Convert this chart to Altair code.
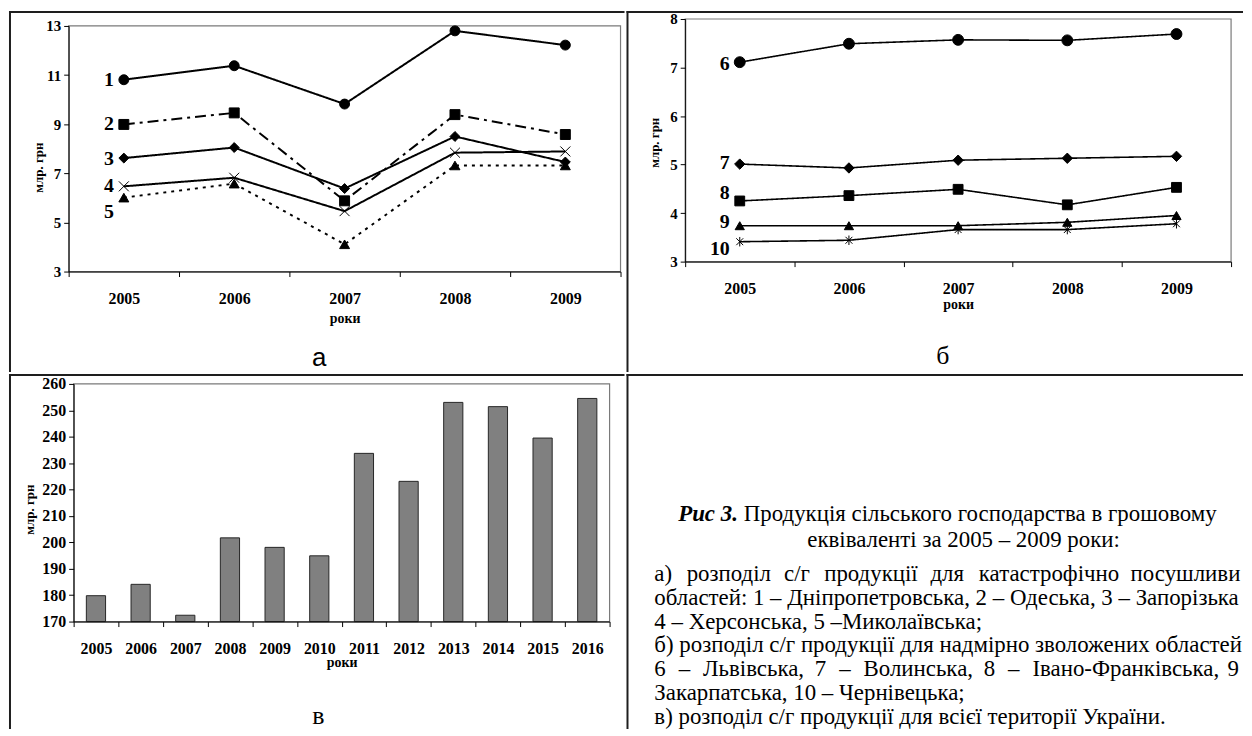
import altair as alt
import pandas as pd

# ---------------- data ----------------
years_ab = ["2005", "2006", "2007", "2008", "2009"]

names_a = ["1", "2", "3", "4", "5"]
a1 = [10.81, 11.38, 9.82, 12.80, 12.22]
a2 = [8.99, 9.46, 5.88, 9.39, 8.58]
a3 = [7.62, 8.05, 6.38, 8.50, 7.46]
a4 = [6.47, 6.82, 5.46, 7.84, 7.89]
a5 = [6.01, 6.58, 4.11, 7.32, 7.32]
label_y_a = [10.81, 8.99, 7.57, 6.47, 5.41]
y_ticks_a = [3, 5, 7, 9, 11, 13]

names_b = ["6", "7", "8", "9", "10"]
b6 = [7.11, 7.49, 7.57, 7.56, 7.69]
b7 = [5.01, 4.93, 5.09, 5.13, 5.17]
b8 = [4.25, 4.36, 4.49, 4.17, 4.53]
b9 = [3.74, 3.74, 3.74, 3.81, 3.95]
b10 = [3.41, 3.44, 3.66, 3.66, 3.78]
label_y_b = [7.07, 5.03, 4.41, 3.82, 3.26]
y_ticks_b = [3, 4, 5, 6, 7, 8]

years_v = ["2005", "2006", "2007", "2008", "2009", "2010",
           "2011", "2012", "2013", "2014", "2015", "2016"]
values_v = [179.8, 184.1, 172.4, 201.7, 198.1, 194.9,
            233.7, 223.1, 253.0, 251.4, 239.5, 254.5]
y_ticks_v = [170, 180, 190, 200, 210, 220, 230, 240, 250, 260]

axis_title_y = "млр. грн"
axis_title_x = "роки"
panel_letters = ["а", "б", "в"]

caption_lead = "Рис 3."
caption_title = ["Продукція сільського господарства в грошовому",
                 "еквіваленті за 2005 – 2009 роки:"]
caption_body = [
    "а) розподіл с/г продукції для катастрофічно посушливих",
    "областей: 1 – Дніпропетровська, 2 – Одеська, 3 – Запорізька,",
    "4 – Херсонська, 5 –Миколаївська;",
    "б) розподіл с/г продукції для надмірно зволожених областей:",
    "6 – Львівська, 7 – Волинська, 8 – Івано-Франківська, 9 –",
    "Закарпатська, 10 – Чернівецька;",
    "в) розподіл с/г продукції для всієї території України.",
]
justified_lines = {0: 625, 4: 640}   # line index -> justification right edge

# ---------------- style ----------------
SERIF = "Liberation Serif"
SANS = "Liberation Sans"
BORDER = "#1e1e1e"
ONE = pd.DataFrame({"k": [0]})
X_PATH = "M-1,-1L1,1M-1,1L1,-1"
AST_PATH = "M-0.8,-0.8L0.8,0.8M-0.8,0.8L0.8,-0.8M0,-1.1L0,1.1"
ZW = "\u200b"

# approximate Times metrics (1/1000 em) used only for justifying caption lines
CW = {"а": 444, "б": 500, "в": 472, "г": 410, "д": 500, "е": 444, "є": 444, "ж": 690,
      "з": 395, "и": 535, "і": 278, "ї": 278, "й": 535, "к": 486, "л": 500, "м": 630,
      "н": 535, "о": 500, "п": 535, "р": 500, "с": 444, "т": 440, "у": 500, "ф": 650,
      "х": 500, "ц": 535, "ч": 500, "ш": 770, "щ": 770, "ь": 456, "ю": 720, "я": 500,
      " ": 250, ",": 250, ".": 250, ":": 278, ";": 278, "/": 278, ")": 333, "(": 333,
      "–": 500, "-": 333, "І": 333, "Ф": 780, "Л": 680, "В": 667}


def est_width(s, size):
    return sum(CW.get(ch, 500) for ch in s) / 1000.0 * size * 0.97


def long_table(years, names, rows):
    recs = []
    for name, vals in zip(names, rows):
        for yr, v in zip(years, vals):
            recs.append({"year": yr, "series": name, "value": v})
    return pd.DataFrame(recs)


def borders(w, h):
    v = alt.Chart(ONE).mark_rule(color=BORDER, strokeWidth=2).encode(
        x=alt.value(1), y=alt.value(0), y2=alt.value(h))
    hz = alt.Chart(ONE).mark_rule(color=BORDER, strokeWidth=2).encode(
        y=alt.value(1), x=alt.value(0), x2=alt.value(w))
    return [v, hz]


def frame(left, right, top, bottom):
    return alt.Chart(ONE).mark_rect(fillOpacity=0, stroke="#7a7a7a", strokeWidth=1.2).encode(
        x=alt.value(left), x2=alt.value(right), y=alt.value(top), y2=alt.value(bottom))


def text_item(txt, x, y, align="left", size=23, weight="normal", style="normal",
              font=SERIF, limit=None):
    props = dict(text=txt, align=align, baseline="middle", font=font, fontSize=size,
                 fontWeight=weight, fontStyle=style, color="black", clip=True)
    if limit is not None:
        props.update(limit=max(limit, 1), ellipsis=ZW)
    return alt.Chart(ONE).mark_text(**props).encode(x=alt.value(x), y=alt.value(y))


def x_axis(h, left, right, bottom, title_dy):
    return alt.Axis(title=axis_title_x, orient="bottom", offset=bottom - h, tickBand="extent",
                    labelAngle=0, labelFont=SERIF, labelFontWeight="bold", labelFontSize=16,
                    labelColor="black", labelBaseline="middle", labelPadding=22,
                    tickSize=5, tickColor="black", domainColor="black", grid=False, zindex=2,
                    titleFont=SERIF, titleFontWeight="bold", titleFontSize=14, titleColor="black",
                    titleX=(left + right) / 2, titleY=title_dy, titleBaseline="middle",
                    titleAlign="center")


def y_axis(left, ticks, tx, ty, size=15):
    return alt.Axis(title=axis_title_y, orient="left", offset=-left, values=ticks, format="d",
                    labelFont=SERIF, labelFontWeight="bold", labelFontSize=size,
                    labelColor="black", labelPadding=3, tickSize=5, tickColor="black",
                    domainColor="black", grid=False, zindex=2,
                    titleFont=SERIF, titleFontWeight="bold", titleFontSize=13,
                    titleColor="black", titleAngle=270, titleX=tx, titleY=ty,
                    titleBaseline="middle", titleAlign="center")


def line_panel(years, names, rows, label_vals, y_dom, y_ticks, w, h, box,
               dashes, widths, shapes, sizes, ytx, yty, xty, letter, lxy, lfont):
    left, right, top, bottom = box
    df = long_table(years, names, rows)
    lab = pd.DataFrame({"year": [years[0]] * len(names), "value": label_vals, "label": names})
    x_enc = alt.X("year:O", bandPosition=0.5,
                  scale=alt.Scale(type="band", domain=years, range=[left, right],
                                  paddingInner=0, paddingOuter=0),
                  axis=x_axis(h, left, right, bottom, xty))
    y_enc = alt.Y("value:Q",
                  scale=alt.Scale(domain=y_dom, range=[bottom, top], nice=False, zero=False),
                  axis=y_axis(left, y_ticks, ytx, yty))
    lines = alt.Chart(df).mark_line(color="black").encode(
        x=x_enc, y=y_enc,
        strokeDash=alt.StrokeDash("series:N", scale=alt.Scale(domain=names, range=dashes), legend=None),
        strokeWidth=alt.StrokeWidth("series:O", scale=alt.Scale(domain=names, range=widths), legend=None),
    )
    pts = alt.Chart(df).mark_point(filled=True, fill="black", stroke="black", strokeWidth=1,
                                   opacity=1).encode(
        x=x_enc, y=y_enc,
        shape=alt.Shape("series:N", scale=alt.Scale(domain=names, range=shapes), legend=None),
        size=alt.Size("series:O", scale=alt.Scale(domain=names, range=sizes), legend=None),
    )
    labels = alt.Chart(lab).mark_text(align="right", baseline="middle", dx=-10, font=SERIF,
                                      fontWeight="bold", fontSize=20, color="black").encode(
        x=x_enc, y=y_enc, text="label:N")
    let = text_item(letter, lxy[0], lxy[1], align="center", size=26, font=lfont)
    layers = [frame(left, right, top, bottom), lines, pts, labels, let] + borders(w, h)
    return alt.layer(*layers).properties(width=w, height=h)


W_L, W_R = 619, 620
H_T, H_B = 363, 357

panel_a = line_panel(
    years_ab, names_a, [a1, a2, a3, a4, a5], label_y_a, [3, 13], y_ticks_a, W_L, H_T,
    (60, 615, 15, 262),
    [[1, 0], [11, 5, 3, 5], [1, 0], [1, 0], [3, 5]],
    [2.0, 2.0, 2.0, 1.4, 2.2],
    ["circle", "square", "diamond", X_PATH, "triangle-up"],
    [100, 100, 100, 120, 100],
    -30, 157, 47, panel_letters[0], (312, 349), SANS)

panel_b = line_panel(
    years_ab, names_b, [b6, b7, b8, b9, b10], label_y_b, [3, 8], y_ticks_b, W_R, H_T,
    (59, 608, 8, 252),
    [[1, 0], [1, 0], [1, 0], [1, 0], [1, 0]],
    [1.6, 1.6, 1.6, 1.6, 1.6],
    ["circle", "diamond", "square", "triangle-up", AST_PATH],
    [120, 75, 125, 95, 110],
    -31, 132, 43, panel_letters[1], (318, 347), SERIF)

# ---------------- bar panel ----------------
vl, vr, vt, vb = 65, 604, 10, 249
df_v = pd.DataFrame({"year": years_v, "value": values_v})
bars = alt.Chart(df_v).mark_bar(color="#808080", stroke="#262626", strokeWidth=1,
                                width=alt.RelativeBandSize(0.43)).encode(
    x=alt.X("year:O", scale=alt.Scale(type="band", domain=years_v, range=[vl, vr],
                                      paddingInner=0, paddingOuter=0),
            axis=x_axis(H_B, vl, vr, vb, 41)),
    y=alt.Y("value:Q", scale=alt.Scale(domain=[170, 260], range=[vb, vt], nice=False, zero=False),
            axis=y_axis(vl, y_ticks_v, -44, 136, size=16)),
    y2=alt.datum(170),
)
panel_v = alt.layer(frame(vl, vr, vt, vb), bars,
                    text_item(panel_letters[2], 311, 344, align="center", size=26),
                    *borders(W_L, H_B)).properties(width=W_L, height=H_B)

# ---------------- caption panel ----------------
FS = 23
cap_layers = []
cap_layers.append(text_item(caption_lead, 112, 141, align="right", size=FS,
                            weight="bold", style="italic"))
cap_layers.append(text_item(caption_title[0], 118, 141, size=FS, limit=W_R - 118))
cap_layers.append(text_item(caption_title[1], 339, 167, align="center", size=FS))
x0 = 28
for i, line in enumerate(caption_body):
    yy = 201 + 24.0 * i
    if i in justified_lines:
        x_right = justified_lines[i]
        words = line.split(" ")
        ws = [est_width(wd, FS) for wd in words]
        gap = (x_right - x0 - sum(ws)) / (len(words) - 1)
        xx = x0
        for wd, wdw in zip(words, ws):
            if xx < W_R - 2:
                cap_layers.append(text_item(wd, xx, yy, size=FS, limit=W_R - xx))
            xx += wdw + gap
    else:
        cap_layers.append(text_item(line, x0, yy, size=FS, limit=W_R - x0))
panel_t = alt.layer(*cap_layers, *borders(W_R, H_B)).properties(width=W_R, height=H_B)

row_top = alt.hconcat(panel_a, panel_b, spacing=0).resolve_scale(
    shape="independent", size="independent", strokeDash="independent",
    strokeWidth="independent")
row_bottom = alt.hconcat(panel_v, panel_t, spacing=0)

chart = alt.vconcat(row_top, row_bottom, spacing=0).properties(
    padding=0).configure_view(strokeWidth=0)

chart.save("out.html", embed_options={"renderer": "svg", "actions": False})
